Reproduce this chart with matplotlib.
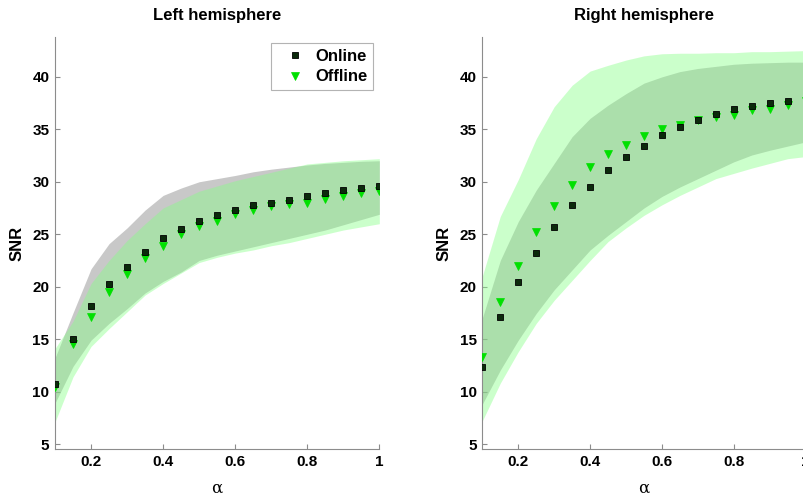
import matplotlib
matplotlib.use("Agg")
import matplotlib.pyplot as plt
import numpy as np

# Mixing parameter alpha
alpha_vals = [0.10, 0.15, 0.20, 0.25, 0.30, 0.35, 0.40, 0.45, 0.50, 0.55,
              0.60, 0.65, 0.70, 0.75, 0.80, 0.85, 0.90, 0.95, 1.00]

# ---- Left hemisphere ----
left_online = [10.7, 15.0, 18.2, 20.25, 21.9, 23.3, 24.6, 25.5, 26.3, 26.8,
               27.3, 27.75, 28.0, 28.3, 28.6, 28.9, 29.2, 29.4, 29.6]
left_offline = [10.4, 14.5, 17.15, 19.5, 21.2, 22.7, 23.9, 25.0, 25.8, 26.3,
                26.9, 27.3, 27.7, 27.85, 28.0, 28.4, 28.65, 28.9, 29.1]
left_online_hi = [13.2, 17.5, 21.7, 24.1, 25.6, 27.3, 28.7, 29.4, 30.0, 30.3,
                  30.6, 30.95, 31.2, 31.4, 31.6, 31.75, 31.85, 31.95, 32.0]
left_online_lo = [8.9, 12.4, 14.9, 16.5, 17.9, 19.4, 20.5, 21.4, 22.5, 23.0,
                  23.4, 23.8, 24.2, 24.6, 25.0, 25.4, 25.9, 26.4, 26.9]
left_offline_hi = [14.1, 16.7, 20.3, 22.5, 24.4, 26.0, 27.5, 28.3, 29.1, 29.6,
                   30.1, 30.5, 30.9, 31.3, 31.7, 31.85, 32.0, 32.1, 32.2]
left_offline_lo = [7.1, 11.4, 14.3, 16.0, 17.6, 19.2, 20.3, 21.3, 22.3, 22.8,
                   23.2, 23.5, 23.9, 24.2, 24.6, 25.0, 25.4, 25.7, 26.0]

# ---- Right hemisphere ----
right_online = [12.3, 17.15, 20.4, 23.2, 25.65, 27.75, 29.5, 31.1, 32.35, 33.4,
                34.5, 35.2, 35.9, 36.5, 36.9, 37.2, 37.5, 37.7, 37.8]
right_offline = [13.3, 18.5, 22.0, 25.2, 27.7, 29.7, 31.4, 32.6, 33.5, 34.4,
                 35.0, 35.45, 35.9, 36.2, 36.4, 36.8, 36.95, 37.35, 37.7]
right_online_hi = [17.0, 22.5, 26.2, 29.2, 31.75, 34.3, 36.05, 37.3, 38.4, 39.4,
                   40.0, 40.5, 40.8, 41.0, 41.2, 41.3, 41.35, 41.4, 41.4]
right_online_lo = [8.8, 12.05, 14.9, 17.45, 19.7, 21.6, 23.5, 24.9, 26.2, 27.5,
                   28.6, 29.5, 30.3, 31.1, 31.9, 32.55, 33.0, 33.4, 33.8]
right_offline_hi = [21.0, 26.7, 30.2, 34.1, 37.15, 39.2, 40.55, 41.1, 41.6, 42.0,
                    42.2, 42.25, 42.25, 42.3, 42.3, 42.4, 42.4, 42.45, 42.5]
right_offline_lo = [7.2, 10.8, 13.8, 16.5, 18.7, 20.6, 22.5, 24.3, 25.6, 26.8,
                    27.8, 28.7, 29.5, 30.3, 30.8, 31.3, 31.75, 32.2, 32.4]

titles = ["Left hemisphere", "Right hemisphere"]
y_ticks = [5, 10, 15, 20, 25, 30, 35, 40]
x_ticks = [0.2, 0.4, 0.6, 0.8, 1.0]
x_tick_labels = ["0.2", "0.4", "0.6", "0.8", "1"]

plt.rcParams["font.family"] = ["Liberation Sans", "DejaVu Sans"]

fig = plt.figure(figsize=(8.04, 4.97), dpi=100)
ax_l = fig.add_axes([0.0684, 0.096, 0.4034, 0.8296])
ax_r = fig.add_axes([0.5999, 0.096, 0.4022, 0.8296])

GRAY_BAND = "#c8c8c8"
GREEN_BAND = "#85ff85"
ON_FACE = "#0b2a0b"
OFF_COLOR = "#00e000"
SPINE = "#8c8c8c"

panels = [
    (ax_l, left_online, left_offline, left_online_lo, left_online_hi,
     left_offline_lo, left_offline_hi),
    (ax_r, right_online, right_offline, right_online_lo, right_online_hi,
     right_offline_lo, right_offline_hi),
]

x = np.array(alpha_vals)
for i, (ax, on, off, on_lo, on_hi, off_lo, off_hi) in enumerate(panels):
    ax.fill_between(x, on_lo, on_hi, color=GRAY_BAND, lw=0, zorder=1)
    ax.fill_between(x, off_lo, off_hi, color=GREEN_BAND, alpha=0.42, lw=0,
                    zorder=2)
    ax.plot(x, on, ls="none", marker="s", ms=4.8, mfc=ON_FACE, mec="black",
            mew=0.6, zorder=4, label="Online")
    ax.plot(x, off, ls="none", marker="v", ms=6.0, mfc=OFF_COLOR,
            mec=OFF_COLOR, mew=0.5, zorder=3, label="Offline")

    ax.set_xlim(0.1, 1.0)
    ax.set_ylim(4.5, 43.8)
    ax.set_xticks(x_ticks)
    ax.set_xticklabels(x_tick_labels)
    ax.set_yticks(y_ticks)
    for side in ("top", "right"):
        ax.spines[side].set_visible(False)
    for side in ("left", "bottom"):
        ax.spines[side].set_color(SPINE)
        ax.spines[side].set_linewidth(0.8)
    ax.tick_params(direction="in", length=3.5, width=0.8, color=SPINE,
                   labelsize=11, pad=4)
    for lab in ax.get_xticklabels() + ax.get_yticklabels():
        lab.set_fontweight("bold")
    ax.set_title(titles[i], fontsize=12, fontweight="bold", pad=12)
    ax.set_ylabel("SNR", fontsize=12, fontweight="bold", labelpad=6)
    ax.set_xlabel("α", fontsize=12, family="DejaVu Serif", labelpad=7.5)

leg = ax_l.legend(loc="upper right", bbox_to_anchor=(0.981, 0.986),
                  borderaxespad=0, frameon=True, fancybox=False,
                  prop={"weight": "bold", "size": 12}, handletextpad=0.1,
                  handlelength=2.2, borderpad=0.35, labelspacing=0.35)
leg.get_frame().set_edgecolor("#a0a0a0")
leg.get_frame().set_linewidth(0.8)

fig.savefig("out.png", dpi=100)
